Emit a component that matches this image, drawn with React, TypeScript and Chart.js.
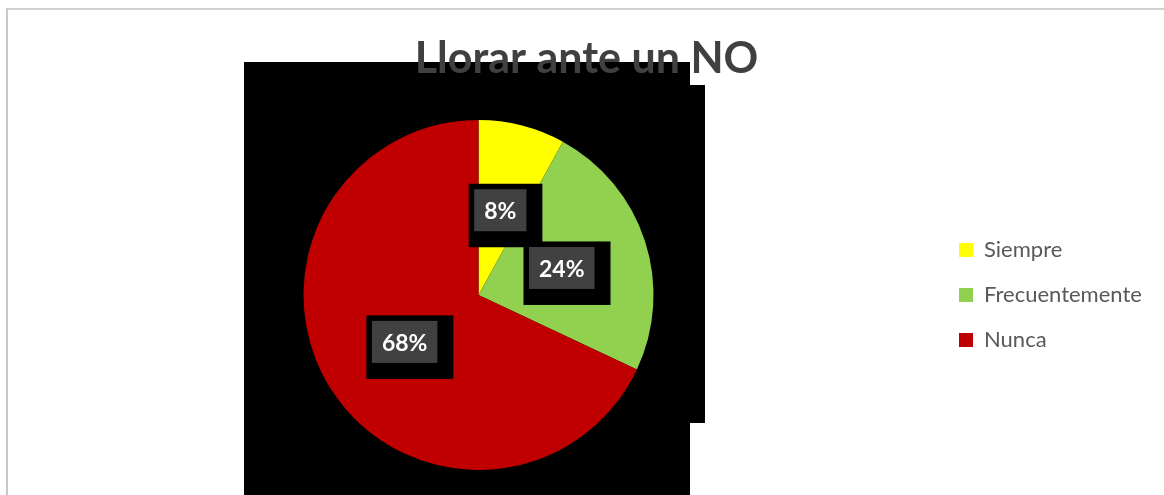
import React, { useEffect, useRef } from "react";
import { Chart, registerables } from "chart.js";

Chart.register(...registerables);

const categories = ["Siempre", "Frecuentemente", "Nunca"];
const values = [8, 24, 68];
const sliceColors = ["#FFFF00", "#92D050", "#C00000"];
const titleText = "Llorar ante un NO";

const CANVAS_W = 1156;
const CANVAS_H = 487;
const LEGEND_FONT = 22;
const LEGEND_BOX = 14;
const LEGEND_PAD = 45 - LEGEND_FONT;

function makePattern(ctx: CanvasRenderingContext2D) {
  const c = document.createElement("canvas");
  c.width = 4;
  c.height = 4;
  const p = c.getContext("2d")!;
  p.fillStyle = "#404040";
  p.fillRect(0, 0, 4, 4);
  p.fillStyle = "#4b4b4b";
  p.fillRect(1, 1, 1, 1);
  return ctx.createPattern(c, "repeat");
}

const labelPlugin = {
  id: "sliceLabels",
  afterDatasetsDraw(chart: any) {
    const ctx: CanvasRenderingContext2D = chart.ctx;
    const meta = chart.getDatasetMeta(0);
    const data = chart.data.datasets[0].data as number[];
    const pattern = makePattern(ctx);
    ctx.save();
    ctx.font = "bold 23px Lato";
    meta.data.forEach((arc: any, i: number) => {
      const pos = arc.tooltipPosition(false);
      const text = `${data[i]}%`;
      const tw = ctx.measureText(text).width;
      const w = tw + 20;
      const h = 42;
      const x = pos.x - w / 2;
      const y = pos.y - h / 2;
      ctx.fillStyle = "#000000";
      ctx.fillRect(x - 5.5, y - 5.5, w + 21.5, h + 21.5);
      ctx.fillStyle = pattern || "#404040";
      ctx.fillRect(x, y, w, h);
      ctx.fillStyle = "#FFFFFF";
      ctx.textAlign = "center";
      ctx.textBaseline = "middle";
      ctx.fillText(text, pos.x, pos.y + 1.5);
    });
    ctx.restore();
  },
};

export default function App() {
  const ref = useRef<HTMLCanvasElement | null>(null);

  useEffect(() => {
    if (!ref.current) return;
    const m = document.createElement("canvas").getContext("2d")!;
    m.font = `${LEGEND_FONT}px Lato`;
    const longest = Math.max(...categories.map((c) => m.measureText(c).width));
    const maxItem = LEGEND_BOX + LEGEND_FONT / 2 + longest;
    const W = maxItem + LEGEND_PAD + 10;
    // right edge of layout so that legend boxes start at page x = 959
    const R = 951 + maxItem + 10;
    // balance title centre (page 588) and pie centre (page 477)
    const S = (938 + W + 1160) / 2;
    const padRight = CANVAS_W - R;
    const padLeft = S - R;

    const chart = new Chart(ref.current, {
      type: "pie",
      data: {
        labels: categories,
        datasets: [
          {
            data: values,
            backgroundColor: sliceColors,
            borderWidth: 0,
            hoverOffset: 0,
            offset: 0,
          },
        ],
      },
      options: {
        responsive: false,
        animation: false,
        layout: { padding: { left: padLeft, right: padRight, top: 0, bottom: 25 } },
        plugins: {
          title: {
            display: true,
            text: titleText,
            color: "#404040",
            font: { family: "Lato", size: 43, weight: "bold", lineHeight: 1.2 },
            padding: { top: 25, bottom: 35.4 },
          },
          legend: {
            position: "right",
            fullSize: false,
            labels: {
              color: "#595959",
              font: { family: "Lato", size: LEGEND_FONT },
              boxWidth: LEGEND_BOX,
              boxHeight: LEGEND_BOX,
              padding: LEGEND_PAD,
            },
          },
          tooltip: { enabled: false },
        },
      },
      plugins: [labelPlugin],
    });
    return () => chart.destroy();
  }, []);

  return (
    <div
      style={{
        position: "fixed",
        left: 0,
        top: 0,
        width: 1164,
        height: 495,
        overflow: "hidden",
        background: "#ffffff",
      }}
    >
      <div
        style={{
          position: "absolute",
          left: 6,
          top: 8,
          width: 2000,
          height: 1000,
          borderTop: "2px solid #d0d0d0",
          borderLeft: "2px solid #c8c8c8",
        }}
      />
      <div style={{ position: "absolute", left: 244, top: 62, width: 446, height: 433, background: "#000" }} />
      <div style={{ position: "absolute", left: 244, top: 85, width: 461, height: 338, background: "#000" }} />
      <canvas
        ref={ref}
        width={CANVAS_W}
        height={CANVAS_H}
        style={{ position: "absolute", left: 8, top: 8, width: CANVAS_W, height: CANVAS_H }}
      />
    </div>
  );
}
